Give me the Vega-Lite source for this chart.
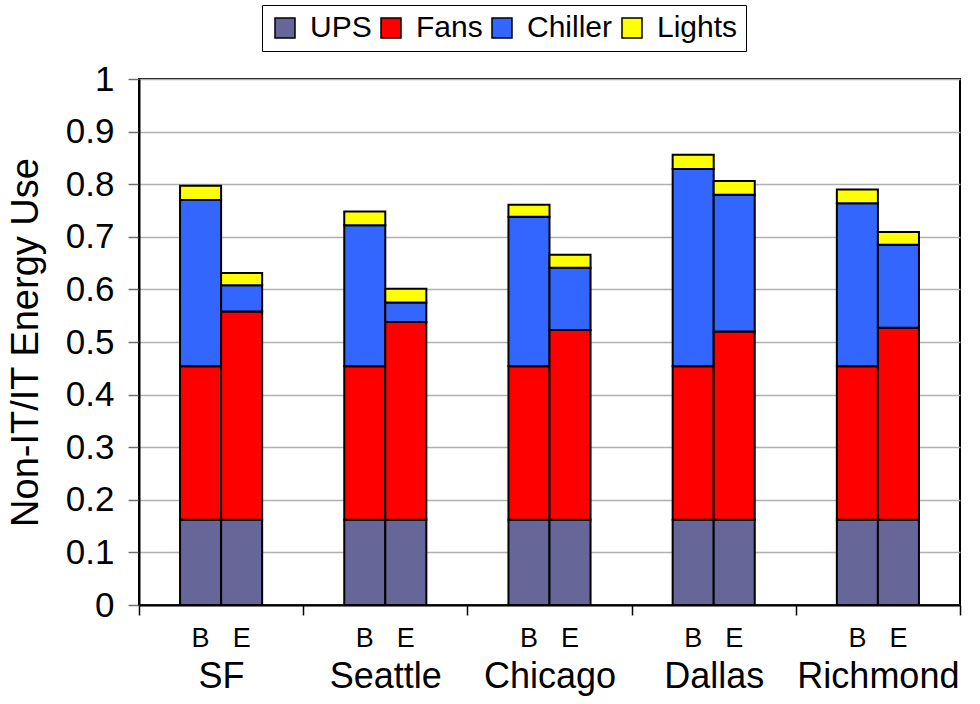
{
  "$schema": "https://vega.github.io/schema/vega-lite/v6.json",
  "width": 821,
  "height": 526,
  "autosize": {"type": "none"},
  "padding": {"left": 139, "top": 79, "right": 20, "bottom": 99},
  "background": "white",
  "config": {
    "font": "Liberation Sans",
    "view": {"stroke": "black", "strokeWidth": 2}
  },
  "data": {
    "values": [
      {"city": "SF", "scenario": "B", "component": "UPS", "k": 1, "value": 0.162},
      {"city": "SF", "scenario": "B", "component": "Fans", "k": 2, "value": 0.292},
      {"city": "SF", "scenario": "B", "component": "Chiller", "k": 3, "value": 0.316},
      {"city": "SF", "scenario": "B", "component": "Lights", "k": 4, "value": 0.027},
      {"city": "SF", "scenario": "E", "component": "UPS", "k": 1, "value": 0.162},
      {"city": "SF", "scenario": "E", "component": "Fans", "k": 2, "value": 0.396},
      {"city": "SF", "scenario": "E", "component": "Chiller", "k": 3, "value": 0.05},
      {"city": "SF", "scenario": "E", "component": "Lights", "k": 4, "value": 0.023},
      {"city": "Seattle", "scenario": "B", "component": "UPS", "k": 1, "value": 0.162},
      {"city": "Seattle", "scenario": "B", "component": "Fans", "k": 2, "value": 0.292},
      {"city": "Seattle", "scenario": "B", "component": "Chiller", "k": 3, "value": 0.268},
      {"city": "Seattle", "scenario": "B", "component": "Lights", "k": 4, "value": 0.026},
      {"city": "Seattle", "scenario": "E", "component": "UPS", "k": 1, "value": 0.162},
      {"city": "Seattle", "scenario": "E", "component": "Fans", "k": 2, "value": 0.376},
      {"city": "Seattle", "scenario": "E", "component": "Chiller", "k": 3, "value": 0.037},
      {"city": "Seattle", "scenario": "E", "component": "Lights", "k": 4, "value": 0.026},
      {"city": "Chicago", "scenario": "B", "component": "UPS", "k": 1, "value": 0.162},
      {"city": "Chicago", "scenario": "B", "component": "Fans", "k": 2, "value": 0.292},
      {"city": "Chicago", "scenario": "B", "component": "Chiller", "k": 3, "value": 0.284},
      {"city": "Chicago", "scenario": "B", "component": "Lights", "k": 4, "value": 0.023},
      {"city": "Chicago", "scenario": "E", "component": "UPS", "k": 1, "value": 0.162},
      {"city": "Chicago", "scenario": "E", "component": "Fans", "k": 2, "value": 0.361},
      {"city": "Chicago", "scenario": "E", "component": "Chiller", "k": 3, "value": 0.118},
      {"city": "Chicago", "scenario": "E", "component": "Lights", "k": 4, "value": 0.025},
      {"city": "Dallas", "scenario": "B", "component": "UPS", "k": 1, "value": 0.162},
      {"city": "Dallas", "scenario": "B", "component": "Fans", "k": 2, "value": 0.292},
      {"city": "Dallas", "scenario": "B", "component": "Chiller", "k": 3, "value": 0.375},
      {"city": "Dallas", "scenario": "B", "component": "Lights", "k": 4, "value": 0.027},
      {"city": "Dallas", "scenario": "E", "component": "UPS", "k": 1, "value": 0.162},
      {"city": "Dallas", "scenario": "E", "component": "Fans", "k": 2, "value": 0.358},
      {"city": "Dallas", "scenario": "E", "component": "Chiller", "k": 3, "value": 0.26},
      {"city": "Dallas", "scenario": "E", "component": "Lights", "k": 4, "value": 0.026},
      {"city": "Richmond", "scenario": "B", "component": "UPS", "k": 1, "value": 0.162},
      {"city": "Richmond", "scenario": "B", "component": "Fans", "k": 2, "value": 0.292},
      {"city": "Richmond", "scenario": "B", "component": "Chiller", "k": 3, "value": 0.31},
      {"city": "Richmond", "scenario": "B", "component": "Lights", "k": 4, "value": 0.026},
      {"city": "Richmond", "scenario": "E", "component": "UPS", "k": 1, "value": 0.162},
      {"city": "Richmond", "scenario": "E", "component": "Fans", "k": 2, "value": 0.365},
      {"city": "Richmond", "scenario": "E", "component": "Chiller", "k": 3, "value": 0.158},
      {"city": "Richmond", "scenario": "E", "component": "Lights", "k": 4, "value": 0.024}
    ]
  },
  "layer": [
    {
      "mark": {"type": "bar", "stroke": "black", "strokeWidth": 2},
      "encoding": {
        "x": {
          "field": "city",
          "type": "nominal",
          "sort": ["SF", "Seattle", "Chicago", "Dallas", "Richmond"],
          "scale": {"paddingInner": 0, "paddingOuter": 0},
          "axis": {
            "title": null,
            "tickBand": "extent",
            "labelAngle": 0,
            "labelFontSize": 36,
            "labelColor": "black",
            "labelPadding": 44,
            "tickSize": 10,
            "tickColor": "black",
            "tickWidth": 1.5,
            "domainColor": "black",
            "domainWidth": 2,
            "grid": false
          }
        },
        "xOffset": {
          "field": "scenario",
          "type": "nominal",
          "sort": ["B", "E"],
          "scale": {"paddingInner": 0, "paddingOuter": 1}
        },
        "y": {
          "field": "value",
          "type": "quantitative",
          "stack": "zero",
          "scale": {"domain": [0, 1], "nice": false},
          "axis": {
            "title": "Non-IT/IT Energy Use",
            "titleFontSize": 38,
            "titleFontWeight": "normal",
            "titleColor": "black",
            "titlePadding": 20,
            "tickCount": 10,
            "format": "~g",
            "labelFontSize": 35,
            "labelColor": "black",
            "labelPadding": 14,
            "tickSize": 11,
            "tickColor": "#707070",
            "tickWidth": 1.5,
            "domainColor": "black",
            "domainWidth": 2,
            "gridColor": "#b0b0b0",
            "gridWidth": 1.5
          }
        },
        "color": {
          "field": "component",
          "type": "nominal",
          "scale": {
            "domain": ["UPS", "Fans", "Chiller", "Lights"],
            "range": ["#666699", "#FF0000", "#3366FF", "#FFFF00"]
          },
          "legend": {
            "orient": "none",
            "legendX": 123,
            "legendY": -74,
            "direction": "horizontal",
            "columns": 4,
            "title": null,
            "labelFontSize": 30,
            "labelColor": "black",
            "labelOffset": 10,
            "columnPadding": 4,
            "symbolType": "square",
            "symbolSize": 400,
            "symbolStrokeColor": "black",
            "symbolStrokeWidth": 1.5,
            "strokeColor": "black",
            "fillColor": "white",
            "padding": 8
          }
        },
        "order": {"field": "k", "type": "quantitative"}
      }
    },
    {
      "transform": [{"filter": "datum.component === 'UPS'"}],
      "mark": {"type": "text", "fontSize": 27, "dy": 34, "color": "black"},
      "encoding": {
        "x": {"field": "city", "type": "nominal", "sort": ["SF", "Seattle", "Chicago", "Dallas", "Richmond"]},
        "xOffset": {"field": "scenario", "type": "nominal", "sort": ["B", "E"]},
        "y": {"datum": 0, "type": "quantitative"},
        "text": {"field": "scenario"}
      }
    }
  ]
}
